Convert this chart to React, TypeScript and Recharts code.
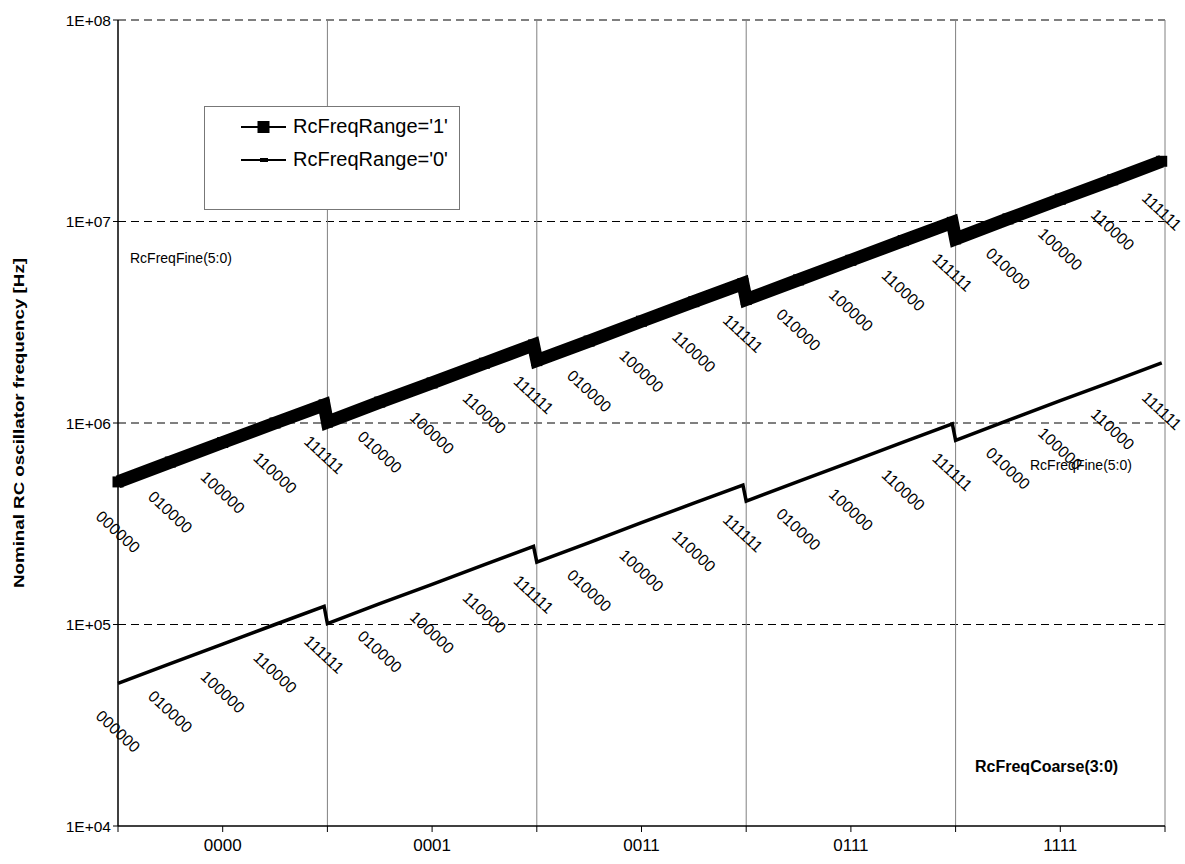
import { ComposedChart, Line, XAxis, YAxis, ReferenceLine, Legend, LabelList } from 'recharts'

const coarseCodes = ['0000', '0001', '0011', '0111', '1111']
const fineCodes = ['000000', '010000', '100000', '110000', '111111']
const fineSteps = [0, 16, 32, 48, 63]

// nominal frequency [Hz] at the labelled fine codes, one row per coarse code
const rangeHigh = [
  [510000, 640000, 800000, 1000000, 1230000],
  [1010000, 1270000, 1580000, 1980000, 2440000],
  [2040000, 2550000, 3200000, 4000000, 4920000],
  [4100000, 5130000, 6420000, 8040000, 9900000],
  [8200000, 10300000, 12900000, 16100000, 19900000],
]
const rangeLow = [
  [51000, 64000, 80000, 100000, 123000],
  [101000, 127000, 158000, 198000, 244000],
  [204000, 255000, 320000, 400000, 492000],
  [410000, 513000, 642000, 804000, 990000],
  [820000, 1030000, 1290000, 1610000, 1990000],
]

const freqTicks = [10000, 100000, 1000000, 10000000, 100000000]
const gridFreqs = [100000, 1000000, 10000000, 100000000]
const coarseBounds = [1, 2, 3, 4, 5]
const xTicks = [0, 0.5, 1, 1.5, 2, 2.5, 3, 3.5, 4, 4.5, 5]

// the 000000 label only shows on the first coarse step, the others hide under 111111
const data = coarseCodes.flatMap((_, s) =>
  fineSteps.map((step, k) => ({
    x: s + step / 64,
    hi: rangeHigh[s][k],
    lo: rangeLow[s][k],
    code: s > 0 && k === 0 ? '' : fineCodes[k],
  }))
)

const font = 'Arial, "Liberation Sans", sans-serif'

const fineLabel = (offset: number) => (props: any) => {
  const x = props.x ?? props.viewBox?.x
  const y = props.y ?? props.viewBox?.y
  if (x == null || y == null || !props.value) return null
  return (
    <text
      key={`${props.index}-${offset}`}
      transform={`translate(${x},${Number(y) + offset}) rotate(43)`}
      textAnchor="middle"
      dominantBaseline="central"
      fontSize={16}
      fontFamily={font}
      fill="#000"
    >
      {props.value}
    </text>
  )
}

const squareDot = (p: any) => (
  <rect key={`sq-${p.index}`} x={p.cx - 5.5} y={p.cy - 5.5} width={11} height={11} fill="#000" />
)

function LegendBox() {
  const rows = [
    { name: "RcFreqRange='1'", big: true },
    { name: "RcFreqRange='0'", big: false },
  ]
  return (
    <div style={{ paddingTop: 3 }}>
      {rows.map((r) => (
        <div key={r.name} style={{ display: 'flex', alignItems: 'center', height: 33 }}>
          <svg width={84} height={20} style={{ marginLeft: 2 }}>
            <line x1={34} y1={10} x2={79} y2={10} stroke="#000" strokeWidth={2} />
            {r.big ? (
              <rect x={50.5} y={4} width={12} height={12} fill="#000" />
            ) : (
              <rect x={53} y={8} width={8} height={4} fill="#000" />
            )}
          </svg>
          <span style={{ fontFamily: font, fontSize: 20, color: '#000', marginLeft: 2 }}>{r.name}</span>
        </div>
      ))}
    </div>
  )
}

export default function App() {
  return (
    <div style={{ position: 'absolute', left: 0, top: 0, background: '#fff' }}>
      <ComposedChart
        width={1185}
        height={864}
        data={data}
        margin={{ top: 20, right: 20, left: 0, bottom: 0 }}
      >
        <XAxis
          dataKey="x"
          type="number"
          domain={[0, 5]}
          ticks={xTicks}
          interval={0}
          tickFormatter={(v: number) => (Number.isInteger(v) ? '' : coarseCodes[Math.floor(v)])}
          height={38}
          axisLine={{ stroke: '#000', strokeWidth: 1.5 }}
          tickLine={{ stroke: '#000' }}
          tickSize={6}
          tick={{ fontSize: 17, fill: '#000', fontFamily: font, dy: 5 }}
        />
        <YAxis
          type="number"
          scale="log"
          domain={[10000, 100000000]}
          ticks={freqTicks}
          interval={0}
          tickFormatter={(v: number) => `1E+0${Math.round(Math.log10(v))}`}
          width={118}
          axisLine={{ stroke: '#000', strokeWidth: 1.5 }}
          tickLine={{ stroke: '#000' }}
          tickSize={5}
          tick={{ fontSize: 15.5, fill: '#000', fontFamily: font }}
        />
        {gridFreqs.map((f) => (
          <ReferenceLine
            key={f}
            y={f}
            stroke={f === 100000000 ? '#555' : '#000'}
            strokeDasharray="8 5"
            strokeWidth={f === 100000000 ? 1.5 : 1}
          />
        ))}
        {coarseBounds.map((b) => (
          <ReferenceLine key={b} x={b} stroke="#808080" strokeWidth={1} />
        ))}
        <Legend
          layout="horizontal"
          verticalAlign="middle"
          align="center"
          content={() => <LegendBox />}
          wrapperStyle={{
            position: 'absolute',
            left: 204,
            top: 106,
            width: 256,
            height: 104,
            border: '1px solid #777',
            background: '#fff',
            boxSizing: 'border-box',
          }}
        />
        <Line
          dataKey="hi"
          stroke="#000"
          strokeWidth={13}
          dot={squareDot}
          activeDot={false}
          isAnimationActive={false}
          legendType="none"
        >
          <LabelList dataKey="code" content={fineLabel(50)} />
        </Line>
        <Line
          dataKey="lo"
          stroke="#000"
          strokeWidth={3.5}
          dot={false}
          activeDot={false}
          isAnimationActive={false}
          legendType="none"
        >
          <LabelList dataKey="code" content={fineLabel(48)} />
        </Line>
        <text x={130} y={258} fontSize={14} fontFamily={font} fill="#000" dominantBaseline="central">
          RcFreqFine(5:0)
        </text>
        <text x={1030} y={465} fontSize={14} fontFamily={font} fill="#000" dominantBaseline="central">
          RcFreqFine(5:0)
        </text>
        <text x={975} y={766} fontSize={16} fontWeight="bold" fontFamily={font} fill="#000" dominantBaseline="central">
          RcFreqCoarse(3:0)
        </text>
        <text
          transform="translate(18,423) rotate(-90)"
          textAnchor="middle"
          dominantBaseline="central"
          fontSize={15}
          fontWeight="bold"
          fontFamily={font}
          fill="#000"
          textLength={330}
          lengthAdjust="spacingAndGlyphs"
        >
          Nominal RC oscillator frequency  [Hz]
        </text>
      </ComposedChart>
    </div>
  )
}
